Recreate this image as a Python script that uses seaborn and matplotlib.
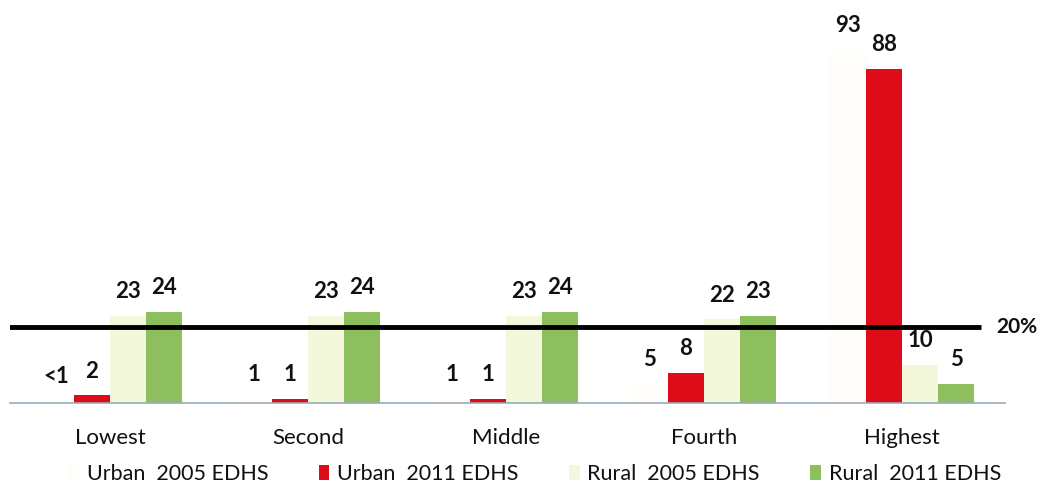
import matplotlib
matplotlib.use("Agg")
import matplotlib.pyplot as plt
from matplotlib.patches import Patch
import pandas as pd
import seaborn as sns

# Wealth quintiles and share of households per survey/residence (%)
quintiles = ["Lowest", "Second", "Middle", "Fourth", "Highest"]
series = ["Urban  2005 EDHS", "Urban  2011 EDHS", "Rural  2005 EDHS", "Rural  2011 EDHS"]
urban_2005 = [0.5, 1, 1, 5, 93]
urban_2011 = [2, 1, 1, 8, 88]
rural_2005 = [23, 23, 23, 22, 10]
rural_2011 = [24, 24, 24, 23, 5]
label_text = [
    ["<1", "1", "1", "5", "93"],
    ["2", "1", "1", "8", "88"],
    ["23", "23", "23", "22", "10"],
    ["24", "24", "24", "23", "5"],
]
threshold = 20
colors = ["#FEFDF9", "#DE0B18", "#F3F8DC", "#8DBF5F"]

values = [urban_2005, urban_2011, rural_2005, rural_2011]
df = pd.DataFrame(
    [(q, s, v) for s, vals in zip(series, values) for q, v in zip(quintiles, vals)],
    columns=["quintile", "series", "pct"],
)

sns.set_theme(style="white")
plt.rcParams["font.family"] = ["Lato", "DejaVu Sans"]

fig = plt.figure(figsize=(10.44, 4.93), dpi=100)
ax = fig.add_axes([10 / 1044, 90 / 493, 995 / 1044, 380 / 493])

sns.barplot(
    data=df, x="quintile", y="pct", hue="series", order=quintiles,
    hue_order=series, palette=colors, width=0.73, saturation=1,
    linewidth=0, ax=ax, legend=False,
)

for cont, labs in zip(ax.containers, label_text):
    ax.bar_label(cont, labels=labs, padding=10, fontsize=16,
                 fontweight="bold", color="#111111")

ax.set_xlim(-0.505, 4.52)
ax.set_ylim(0, 100)

# 20% reference line
ax.plot([-0.51, 4.40], [threshold, threshold], color="black", lw=3.5,
        solid_capstyle="butt", zorder=5)
ax.text(4.475, threshold, f"{threshold}%", ha="left", va="center",
        fontsize=15, fontweight="bold", color="#111111", clip_on=False)

for side in ["top", "right", "left"]:
    ax.spines[side].set_visible(False)
ax.spines["bottom"].set_color("#9AABB8")
ax.spines["bottom"].set_linewidth(1.2)
ax.set_yticks([])
ax.set_xlabel("")
ax.set_ylabel("")
ax.tick_params(axis="x", length=0, pad=18, labelsize=16, labelcolor="#111111")

handles = [Patch(facecolor=c, edgecolor="none", label=s) for c, s in zip(colors, series)]
fig.legend(
    handles=handles, loc="lower center", bbox_to_anchor=(0.512, -0.022),
    ncol=4, frameon=False, fontsize=15.5, handlelength=0.5, handleheight=0.7,
    handletextpad=0.35, columnspacing=2.35, labelcolor="#111111",
)

fig.savefig("out.png", dpi=100)
